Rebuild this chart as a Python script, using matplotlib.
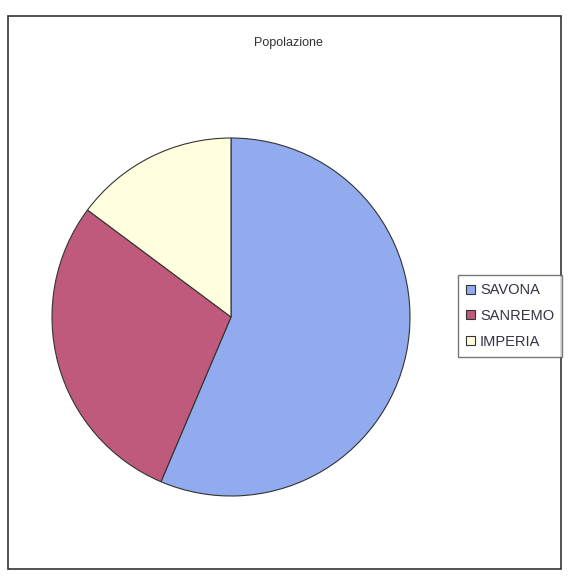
import matplotlib.pyplot as plt
from matplotlib.patches import Rectangle

# Population share (percent)
labels = ["SAVONA", "SANREMO", "IMPERIA"]
values = [56.4, 28.8, 14.8]
colors = ["#92aaee", "#bf5a7c", "#ffffe0"]

fig = plt.figure(figsize=(5.72, 5.84), dpi=100)
fig.patch.set_facecolor("white")

# outer chart border
fig.patches.append(Rectangle((8 / 572, 1 - 569 / 584), 553 / 572, 553 / 584,
                             transform=fig.transFigure, fill=False,
                             edgecolor="#333333", linewidth=1.2))

# pie axes: centre at ~(231, 317) px, radius ~179 px
ax = fig.add_axes([(231 - 179) / 572, (584 - 317 - 179) / 584, 358 / 572, 358 / 584])
wedges, _ = ax.pie(values, colors=colors, startangle=90, counterclock=False,
                   wedgeprops=dict(edgecolor="#333333", linewidth=0.8))
ax.set_xlim(-1, 1)
ax.set_ylim(-1, 1)
ax.set_aspect("equal")

fig.text(288 / 572, 1 - 43 / 584, "Popolazione", ha="center", va="center",
         fontsize=9, family="Liberation Sans", color="#333333")

leg = fig.legend(wedges, labels, loc="center left",
                 bbox_to_anchor=(458 / 572, 1 - 316 / 584),
                 prop={"family": "Liberation Sans", "size": 10.5},
                 frameon=True, fancybox=False, handlelength=0.6, handleheight=0.6,
                 handletextpad=0.35, labelspacing=0.8, borderpad=0.55,
                 borderaxespad=0)
leg.get_frame().set_edgecolor("#555555")
leg.get_frame().set_linewidth(1.0)
for t in leg.get_texts():
    t.set_color("#333344")

fig.savefig("out.png", dpi=100)
